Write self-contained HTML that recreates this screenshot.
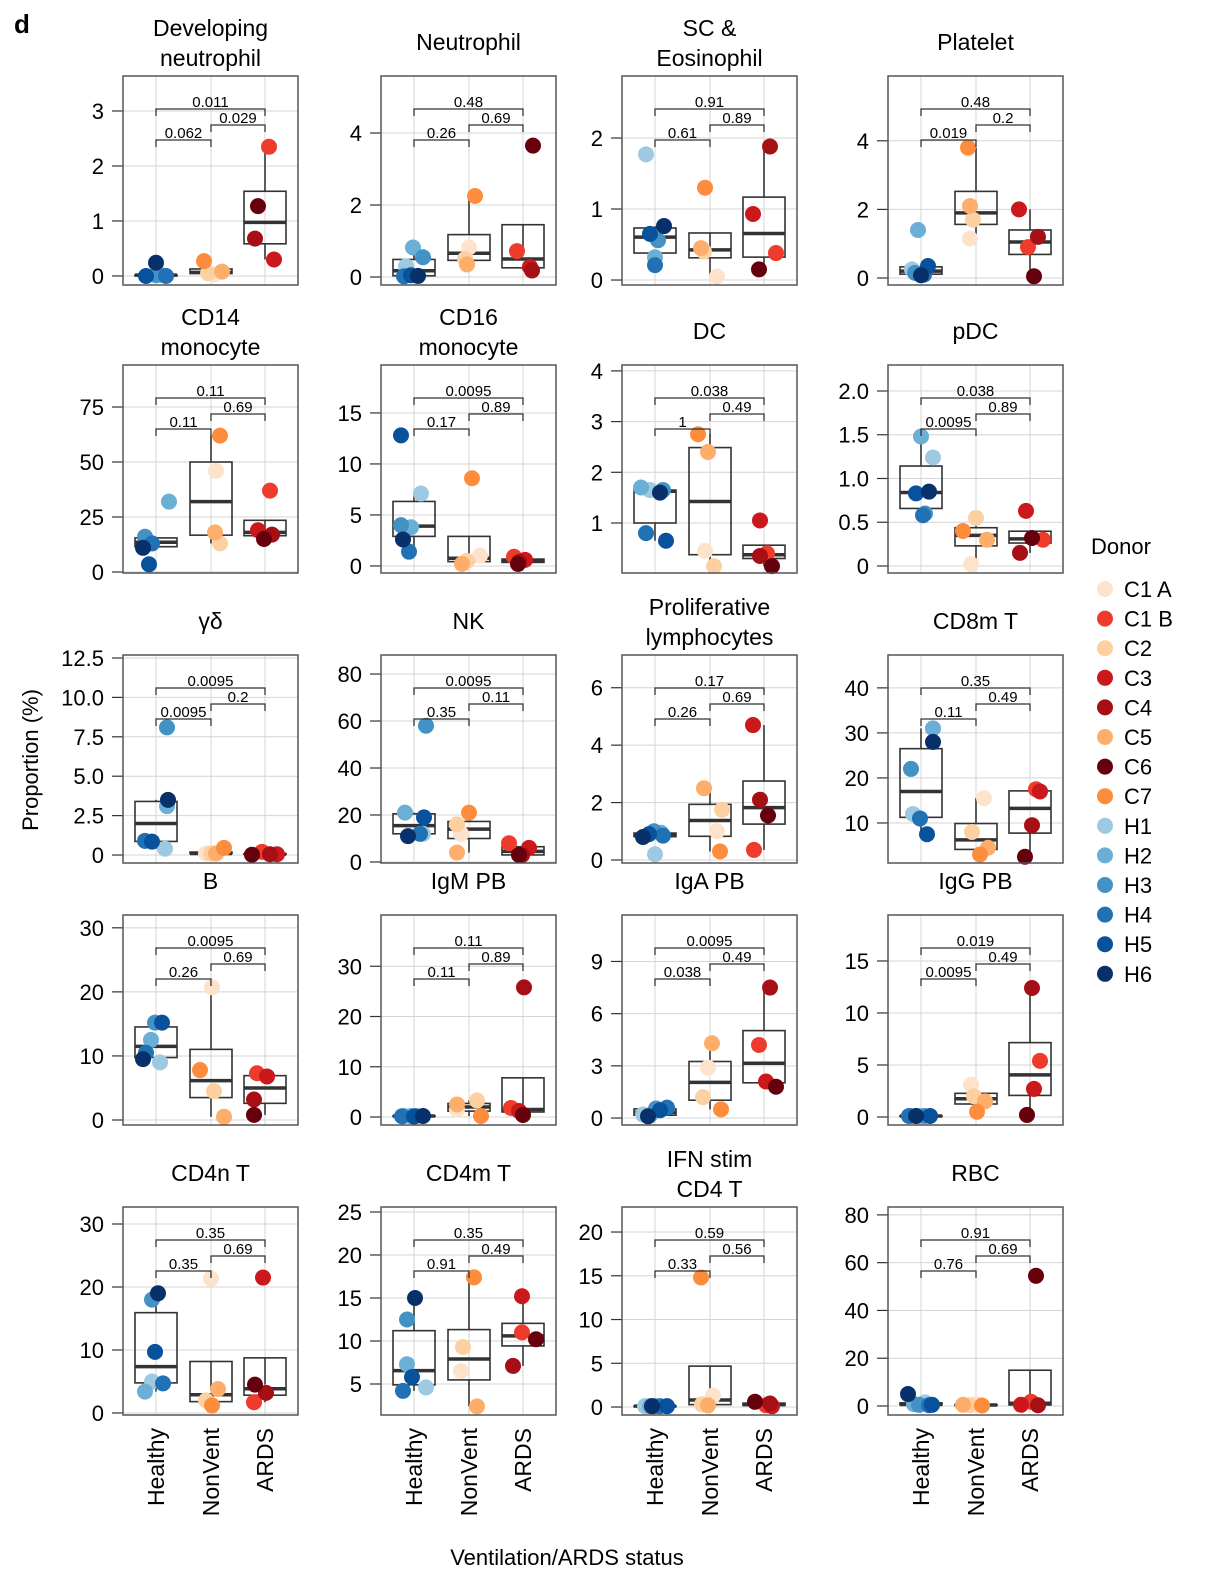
<!DOCTYPE html>
<html><head><meta charset="utf-8"><style>
html,body{margin:0;padding:0;background:#fff;}
svg{display:block;font-family:"Liberation Sans",sans-serif;}
</style></head><body>
<svg id="chart" width="1220" height="1576" viewBox="0 0 1220 1576" xmlns="http://www.w3.org/2000/svg">
<text x="14" y="33" font-size="26" font-weight="bold">d</text>
<text transform="translate(38,760) rotate(-90)" text-anchor="middle" font-size="22">Proportion (%)</text>
<text x="567" y="1565" text-anchor="middle" font-size="22">Ventilation/ARDS status</text>
<text x="1091" y="554" font-size="22">Donor</text>
</svg>
<script>
const donors = ["C1 A","C1 B","C2","C3","C4","C5","C6","C7","H1","H2","H3","H4","H5","H6"];
const donorColors = ["#fde3cc","#ef3b2c","#fdd0a2","#cb181d","#a50f15","#fdae6b","#67000d","#fd8d3c","#9ecae1","#6baed6","#4292c6","#2171b5","#08519c","#08306b"];
const donorGroup = [1,2,1,2,2,1,2,1,0,0,0,0,0,0];
const groups = ["Healthy","NonVent","ARDS"];
const titles = [["Developing","neutrophil"],["Neutrophil"],["SC &","Eosinophil"],["Platelet"],
["CD14","monocyte"],["CD16","monocyte"],["DC"],["pDC"],
["γδ"],["NK"],["Proliferative","lymphocytes"],["CD8m T"],
["B"],["IgM PB"],["IgA PB"],["IgG PB"],
["CD4n T"],["CD4m T"],["IFN  stim","CD4 T"],["RBC"]];
const values = [
[0.03,2.35,0.05,0.3,0.68,0.08,1.27,0.27,0.01,0.02,0.02,0.0,0.0,0.24],
[0.82,0.72,0.5,0.28,0.18,0.35,3.65,2.25,0.3,0.82,0.55,0.02,0.05,0.03],
[0.05,0.38,0.4,0.93,1.88,0.45,0.15,1.3,1.77,0.32,0.56,0.21,0.65,0.76],
[1.15,0.9,1.7,2.0,1.2,2.1,0.05,3.8,0.25,1.4,0.15,0.1,0.35,0.08],
[46,37,13,19,17,18,15,62,14,32,16,13,3.5,11],
[1.0,0.9,0.5,0.6,0.4,0.2,0.2,8.6,7.1,3.8,4.0,1.4,12.8,2.6],
[0.45,0.4,0.15,1.05,0.35,2.4,0.15,2.75,1.65,1.7,1.65,0.8,0.65,1.6],
[0.02,0.3,0.55,0.63,0.15,0.3,0.32,0.4,1.24,1.48,0.6,0.58,0.83,0.85],
[0.1,0.2,0.1,0.05,0.05,0.1,0.02,0.45,0.4,3.1,8.1,0.9,0.85,3.5],
[12,8,16,6,3,4,3,21,12,21,58,12,19,11],
[1.0,0.35,1.75,4.7,2.1,2.5,1.55,0.3,0.2,0.95,1.0,0.85,0.9,0.8],
[15.5,17.5,8,17,9.5,4.5,2.5,3,12,31,22,11,7.5,28],
[20.7,7.3,4.5,6.8,3.2,0.5,0.8,7.8,9,12.5,15.2,10.5,15.2,9.5],
[1.5,1.8,3.3,1.2,25.8,2.5,0.4,0.2,0.2,0.2,0.2,0.15,0.1,0.2],
[2.9,4.2,1.2,2.1,7.5,4.3,1.8,0.5,0.2,0.15,0.55,0.6,0.45,0.1],
[3.1,5.4,2.0,2.7,12.4,1.5,0.2,0.5,0.1,0.1,0.1,0.1,0.1,0.1],
[21.3,1.7,2.0,21.5,3.2,3.8,4.5,1.2,5,3.4,18,4.7,9.7,19],
[6.5,11,9.3,15.2,7.1,2.4,10.2,17.4,4.6,7.3,12.5,4.2,5.8,15],
[1.3,0.2,0.3,0.1,0.4,0.2,0.6,14.8,0.1,0.1,0.1,0.1,0.1,0.1],
[0.8,1.8,0.3,0.5,0.3,0.5,54.5,0.2,1.5,0.8,0.5,0.3,0.5,5]];
const jitter = [
[3,4,-3,9,-10,11,-7,-7,0,5,0,10,-10,0],
[0,-6,-4,7,9,-2,10,6,-8,-1,9,-10,-3,4],
[7,12,-6,-11,6,-9,-5,-5,-9,0,3,0,-5,9],
[-6,-2,-3,-11,8,-6,4,-8,-9,-3,-6,3,7,0],
[5,5,9,-7,7,4,-1,9,-8,13,-11,-4,-7,-13],
[11,-9,-2,2,-4,-7,-5,3,7,-3,-13,-5,-13,-11],
[-5,3,4,-4,-4,-2,8,-12,-5,-14,8,-9,11,5],
[-5,13,0,-4,-10,11,2,-13,12,0,4,2,-5,8],
[-5,-3,0,12,5,5,-13,13,9,11,11,-11,-4,12],
[-8,-14,-12,6,-1,-12,-4,0,9,-9,12,6,10,-6],
[7,-10,12,-11,-4,-6,4,10,0,6,-1,8,-6,-12],
[8,6,-4,10,2,12,-5,4,-8,12,-10,-1,6,12],
[1,-8,3,2,-11,13,-11,-11,4,-5,-1,-10,6,-13],
[-12,-12,8,-4,1,-12,0,12,-9,-3,2,-12,0,9],
[-2,-5,-7,2,6,2,12,11,-12,-5,1,12,5,-7],
[-5,10,-2,4,2,9,-3,1,-9,-3,3,-12,9,-5],
[0,-11,-5,-2,1,7,-10,1,-4,-11,-4,7,-1,2],
[-8,-1,-6,-1,-10,8,13,5,12,-7,-7,-11,-2,1],
[3,2,-8,8,6,-2,-9,-9,-10,-5,0,5,12,-3],
[0,1,-6,-9,8,-13,6,6,4,-7,-2,8,11,-13]];
const domains = [[-0.164,3.636],[-0.222,5.583],[-0.07,2.873],[-0.204,5.889],
[-0.45,94.1],[-0.69,19.7],[0.014,4.116],[-0.08,2.297],
[-0.506,12.69],[-0.43,88.1],[-0.105,7.14],[1.11,47.3],
[-0.78,32.0],[-1.59,40.2],[-0.4,11.67],[-0.77,19.42],
[-0.32,32.7],[1.395,25.58],[-0.91,22.86],[-3.77,83.3]];
const ticks = [[0,1,2,3],[0,2,4],[0,1,2],[0,2,4],
[0,25,50,75],[0,5,10,15],[1,2,3,4],[0,0.5,1,1.5,2],
[0,2.5,5,7.5,10,12.5],[0,20,40,60,80],[0,2,4,6],[10,20,30,40],
[0,10,20,30],[0,10,20,30],[0,3,6,9],[0,5,10,15],
[0,10,20,30],[5,10,15,20,25],[0,5,10,15,20],[0,20,40,60,80]];
const tickLabels = [["0","1","2","3"],["0","2","4"],["0","1","2"],["0","2","4"],
["0","25","50","75"],["0","5","10","15"],["1","2","3","4"],["0","0.5","1.0","1.5","2.0"],
["0","2.5","5.0","7.5","10.0","12.5"],["0","20","40","60","80"],["0","2","4","6"],["10","20","30","40"],
["0","10","20","30"],["0","10","20","30"],["0","3","6","9"],["0","5","10","15"],
["0","10","20","30"],["5","10","15","20","25"],["0","5","10","15","20"],["0","20","40","60","80"]];
const pTop = ["0.011","0.48","0.91","0.48","0.11","0.0095","0.038","0.038","0.0095","0.0095","0.17","0.35","0.0095","0.11","0.0095","0.019","0.35","0.35","0.59","0.91"];
const pRight = ["0.029","0.69","0.89","0.2","0.69","0.89","0.49","0.89","0.2","0.11","0.69","0.49","0.69","0.89","0.49","0.49","0.69","0.49","0.56","0.69"];
const pLeft = ["0.062","0.26","0.61","0.019","0.11","0.17","1","0.0095","0.0095","0.35","0.26","0.11","0.26","0.11","0.038","0.0095","0.35","0.91","0.33","0.76"];

const NS="http://www.w3.org/2000/svg";
const svg=document.getElementById('chart');
function mk(tag,attrs,parent){const e=document.createElementNS(NS,tag);for(const k in attrs)e.setAttribute(k,attrs[k]);(parent||svg).appendChild(e);return e;}
const colL=[123,381,622,888], rowT=[76,365,655,915,1207], rowB=[285,573,863,1125,1415];
const PW=175, gOff=[33,88,142];
function q7(s,p){const h=(s.length-1)*p,lo=Math.floor(h);return s[lo]+(h-lo)*((s[Math.min(lo+1,s.length-1)])-s[lo]);}

for(let i=0;i<20;i++){
  const L=colL[i%4], T=rowT[Math.floor(i/4)], B=rowB[Math.floor(i/4)];
  const [d0,d1]=domains[i];
  const y=v=>B-(v-d0)/(d1-d0)*(B-T);
  const gx=g=>L+gOff[g];
  const g=mk('g',{});
  
  
  ticks[i].forEach(t=>{const l=mk('line',{x1:L,x2:L+PW,y1:y(t),y2:y(t),stroke:'#d4d4d4','stroke-width':1},g);
    });
  for(let k=0;k<3;k++){const l=mk('line',{x1:gx(k),x2:gx(k),y1:T,y2:B,stroke:'#d4d4d4','stroke-width':1},g);
    }
  ticks[i].forEach((t,k)=>{
    const tl=mk('line',{x1:L-11,x2:L,y1:y(t),y2:y(t),stroke:'#333','stroke-width':1.2},g);
    
    const tx=mk('text',{x:L-19,y:y(t)+8,'text-anchor':'end','font-size':22},g);
    
    tx.textContent=tickLabels[i][k];
  });
  for(let k=0;k<3;k++){
    const vs=values[i].filter((v,j)=>donorGroup[j]===k).slice().sort((a,b)=>a-b);
    const q1=q7(vs,.25),md=q7(vs,.5),q3=q7(vs,.75),iqr=q3-q1;
    const lo=Math.min(...vs.filter(v=>v>=q1-1.5*iqr)),hi=Math.max(...vs.filter(v=>v<=q3+1.5*iqr));
    const bx=mk('g',{},g);
    
    mk('line',{x1:gx(k),x2:gx(k),y1:y(hi),y2:y(q3),stroke:'#333','stroke-width':1.6},bx);
    mk('line',{x1:gx(k),x2:gx(k),y1:y(lo),y2:y(q1),stroke:'#333','stroke-width':1.6},bx);
    mk('rect',{x:gx(k)-21,y:y(q3),width:42,height:Math.max(y(q1)-y(q3),0.5),fill:'none',stroke:'#333','stroke-width':1.6},bx);
    mk('line',{x1:gx(k)-21,x2:gx(k)+21,y1:y(md),y2:y(md),stroke:'#333','stroke-width':3.5},bx);
  }
  values[i].forEach((v,j)=>{
    const c=mk('circle',{cx:gx(donorGroup[j])+jitter[i][j],cy:y(v),r:8,fill:donorColors[j]},g);
    
    
  });
  const fr=mk('rect',{x:L,y:T,width:PW,height:B-T,fill:'none',stroke:'#555','stroke-width':1.5},g);
  
  const br=[[0,2,33,pTop[i]],[1,2,49,pRight[i]],[0,1,64,pLeft[i]]];
  br.forEach(([a,b,off,p])=>{
    const by=T+off;
    const pb=mk('path',{d:`M${gx(a)},${by+7}V${by}H${gx(b)}V${by+7}`,fill:'none',stroke:'#333','stroke-width':1.3},g);
    
    const pt=mk('text',{x:(gx(a)+gx(b))/2,y:by-2,'text-anchor':'middle','font-size':15},g);
    
    pt.textContent=p;
  });
  const tt=titles[i], cx=L+PW/2;
  tt.forEach((s,k)=>{
    const yy = tt.length===2 ? T-40+k*30 : T-26;
    const te=mk('text',{x:cx,y:yy,'text-anchor':'middle','font-size':23},g);
    
    te.textContent=s;
  });
  if(i>=16){
    for(let k=0;k<3;k++){
      const xl=mk('text',{transform:`translate(${gx(k)+8},${B+13}) rotate(-90)`,'text-anchor':'end','font-size':23},g);
      
      xl.textContent=groups[k];
    }
  }
}
donors.forEach((d,j)=>{
  const yy=589+j*29.6;
  const lg=mk('g',{});
  
  mk('circle',{cx:1105,cy:yy,r:8,fill:donorColors[j]},lg);
  const t=mk('text',{x:1124,y:yy+8,'font-size':22},lg);
  t.textContent=d;
});
</script>
</body></html>
